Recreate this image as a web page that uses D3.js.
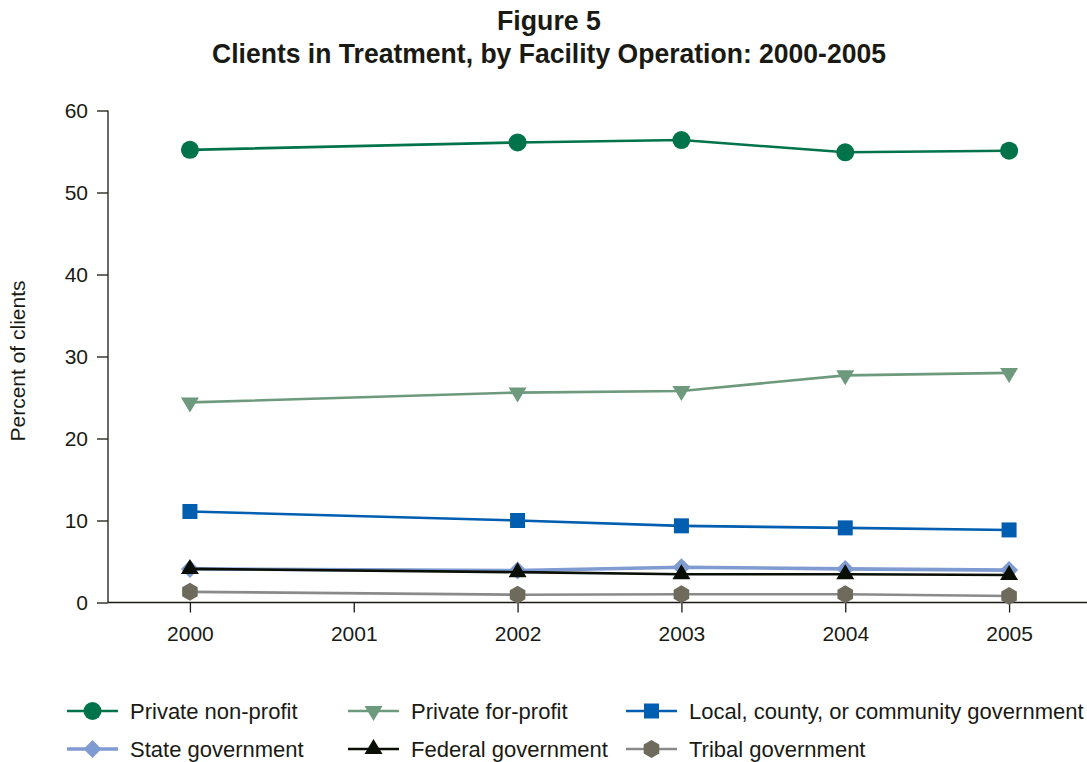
<!DOCTYPE html>
<html><head><meta charset="utf-8">
<script src="https://cdn.jsdelivr.net/npm/d3@7"></script>
<style>body{margin:0;background:#fff}svg{display:block}text{font-family:"Liberation Sans",Arial,sans-serif;fill:#1a1a14}</style>
</head><body><svg id="c" width="1087" height="762"></svg>
<script>
const years = [2000, 2002, 2003, 2004, 2005];
const xTicks = [2000, 2001, 2002, 2003, 2004, 2005];
const yTicks = [0, 10, 20, 30, 40, 50, 60];
const seriesNames = ["Private non-profit","Private for-profit","Local, county, or community government","State government","Federal government","Tribal government"];
const privateNonProfit = [55.2, 56.1, 56.4, 54.9, 55.1];
const privateForProfit = [24.4, 25.6, 25.8, 27.7, 28.0];
const localGov = [11.1, 10.0, 9.35, 9.1, 8.85];
const stateGov = [4.1, 3.9, 4.3, 4.1, 3.95];
const federalGov = [4.1, 3.7, 3.45, 3.45, 3.35];
const tribalGov = [1.3, 0.95, 1.0, 1.0, 0.8];

const svg = d3.select("#c");
const x = d3.scaleLinear().domain([1999.5, 2005.5]).range([108, 1091]);
const y = d3.scaleLinear().domain([0, 60]).range([602.5, 110.5]);

// title
svg.append("text").attr("x", 549).attr("y", 30).attr("text-anchor","middle")
  .attr("textLength",104).attr("lengthAdjust","spacingAndGlyphs")
  .style("font-weight","bold").style("font-size","27px").text("Figure 5");
svg.append("text").attr("x", 549).attr("y", 63).attr("text-anchor","middle")
  .attr("textLength",674).attr("lengthAdjust","spacingAndGlyphs")
  .style("font-weight","bold").style("font-size","27px").text("Clients in Treatment, by Facility Operation: 2000-2005");

// axes
const yAxis = svg.append("g").attr("transform","translate(108,0)")
  .call(d3.axisLeft(y).tickValues(yTicks).tickSize(11).tickPadding(9).tickFormat(d3.format("d")));
const xAxis = svg.append("g").attr("transform","translate(0,602.5)")
  .call(d3.axisBottom(x).tickValues(xTicks).tickSize(10).tickPadding(14).tickFormat(d3.format("d")));
[yAxis, xAxis].forEach(g => {
  g.select(".domain").remove();
  g.selectAll("line").attr("stroke","#1a1a14").attr("stroke-width",1.3);
  g.selectAll("text").style("font-size","21px").attr("fill","#1a1a14");
});
svg.append("line").attr("x1",108).attr("x2",108).attr("y1",y(60)).attr("y2",y(0)).attr("stroke","#1a1a14").attr("stroke-width",1.3);
svg.append("line").attr("x1",108).attr("x2",1087).attr("y1",y(0)).attr("y2",y(0)).attr("stroke","#1a1a14").attr("stroke-width",1.3);

svg.append("text").attr("transform","translate(25,361) rotate(-90)").attr("text-anchor","middle")
  .style("font-size","21px").text("Percent of clients");

const styles = [
  {vals: privateNonProfit, color:"#00734a", mColor:"#00734a", sym:"circle", w:2.6},
  {vals: privateForProfit, color:"#6d9a7c", mColor:"#6d9a7c", sym:"tridown", w:2.6},
  {vals: localGov, color:"#005eb0", mColor:"#005eb0", sym:"square", w:2.6},
  {vals: stateGov, color:"#7f9bd2", mColor:"#7f9bd2", sym:"diamond", w:3.6},
  {vals: federalGov, color:"#0a0f05", mColor:"#0a0f05", sym:"triup", w:2.6},
  {vals: tribalGov, color:"#8a8a8a", mColor:"#6e6b5c", sym:"hex", w:2.6}
];

function marker(g, sym, color, cx, cy) {
  if (sym === "circle") g.append("circle").attr("cx",cx).attr("cy",cy).attr("r",9).attr("fill",color);
  else if (sym === "square") g.append("rect").attr("x",cx-7.5).attr("y",cy-7.5).attr("width",15).attr("height",15).attr("fill",color);
  else if (sym === "diamond") g.append("path").attr("d",`M${cx},${cy-9}L${cx+9},${cy}L${cx},${cy+9}L${cx-9},${cy}Z`).attr("fill",color);
  else if (sym === "triup") g.append("path").attr("d",`M${cx},${cy-10}L${cx+9},${cy+5}L${cx-9},${cy+5}Z`).attr("fill",color);
  else if (sym === "tridown") g.append("path").attr("d",`M${cx-9},${cy-5}L${cx+9},${cy-5}L${cx},${cy+10}Z`).attr("fill",color);
  else if (sym === "hex") {
    const pts = d3.range(6).map(i => { const a = Math.PI/6 + i*Math.PI/3; return [cx+9*Math.cos(a), cy+9*Math.sin(a)]; });
    g.append("path").attr("d","M"+pts.map(p=>p.join(",")).join("L")+"Z").attr("fill",color);
  }
}

const line = d3.line().x((d,i)=>x(years[i])).y(d=>y(d));
styles.forEach(s => {
  const g = svg.append("g");
  g.append("path").datum(s.vals).attr("d", line).attr("fill","none").attr("stroke",s.color).attr("stroke-width",s.w);
  s.vals.forEach((v,i) => marker(g, s.sym, s.mColor, x(years[i]), y(v)));
});

// legend
const legPos = [[67,711],[348,711],[626,711],[67,749],[348,749],[626,749]];
styles.forEach((s,i) => {
  const [lx, ly] = legPos[i];
  const g = svg.append("g");
  g.append("line").attr("x1",lx).attr("x2",lx+51).attr("y1",ly).attr("y2",ly).attr("stroke",s.color).attr("stroke-width",s.w);
  marker(g, s.sym, s.mColor, lx+25.5, ly);
  g.append("text").attr("x",lx+63).attr("y",ly+8).style("font-size","22px").text(seriesNames[i]);
});
</script></body></html>
